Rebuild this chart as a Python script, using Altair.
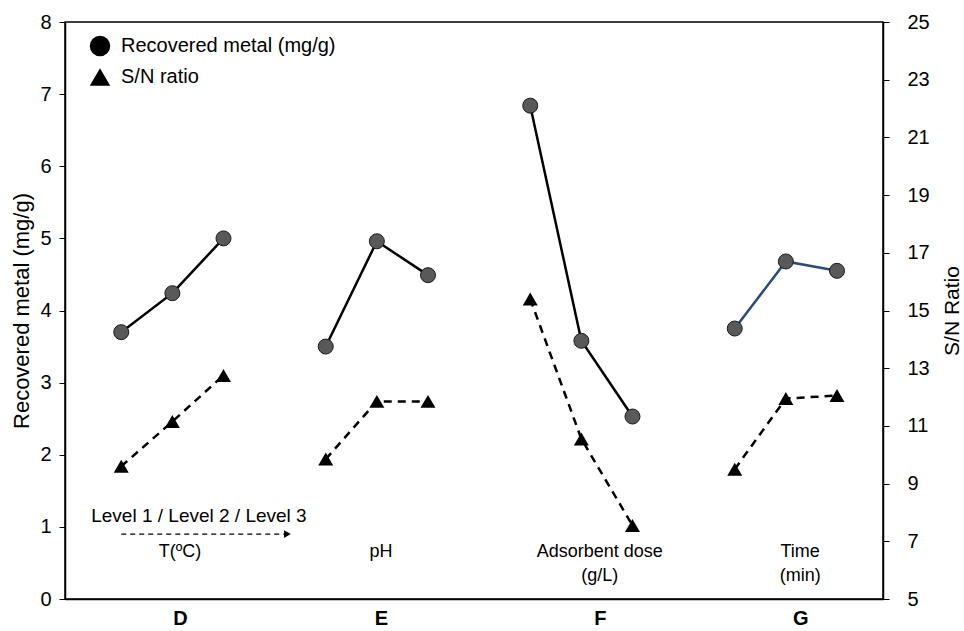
import altair as alt
import pandas as pd

# ---- data ----
factors = ["D", "E", "F", "G"]
factor_names = ["T(ºC)", "pH", "Adsorbent dose\n(g/L)", "Time\n(min)"]
levels = [1, 2, 3]
metal_D = [3.70, 4.24, 5.00]
metal_E = [3.50, 4.96, 4.49]
metal_F = [6.84, 3.58, 2.53]
metal_G = [3.75, 4.68, 4.55]
sn_D = [9.60, 11.15, 12.75]
sn_E = [9.85, 11.85, 11.85]
sn_F = [15.40, 10.55, 7.55]
sn_G = [9.50, 11.95, 12.05]
series_names = ["Recovered metal (mg/g)", "S/N ratio"]
metal_ticks = [0, 1, 2, 3, 4, 5, 6, 7, 8]
sn_ticks = [5, 7, 9, 11, 13, 15, 17, 19, 21, 23, 25]

metal = [metal_D, metal_E, metal_F, metal_G]
sn = [sn_D, sn_E, sn_F, sn_G]

rows = []
for gi, g in enumerate(factors):
    for li, lv in enumerate(levels):
        rows.append({"group": g, "level": lv, "x": 4 * gi + lv,
                     "metal": metal[gi][li], "sn": sn[gi][li]})
df = pd.DataFrame(rows)

# layout
FONT = "Liberation Sans"
BLUE = "#2C4A7E"
label_offset = [0.15, 0.08, 0.36, 0.28]
label_x = [round(4 * gi + 2 + label_offset[gi], 2) for gi in range(len(factors))]
label_map = "{" + ",".join(f"'{v}':'{g}'" for v, g in zip(label_x, factors)) + "}"

x_scale = alt.Scale(domain=[-0.1, 15.9])
x_enc = alt.X("x:Q", scale=x_scale,
              axis=alt.Axis(values=label_x,
                            labelExpr=label_map + "[datum.value]",
                            title=None, ticks=False, grid=False,
                            domainColor="black", domainWidth=1.5,
                            labelFontSize=20, labelFontWeight="bold",
                            labelColor="black", labelPadding=9, labelFont=FONT))

metal_y = alt.Y("metal:Q", scale=alt.Scale(domain=[0, 8]),
                axis=alt.Axis(orient="left", values=metal_ticks, title="Recovered metal (mg/g)",
                              grid=False, tickSize=6, tickColor="black", domainColor="black",
                              domainWidth=1.5, labelFontSize=20, labelColor="black",
                              labelPadding=8, titleFontSize=22, titleFontWeight="normal",
                              titleColor="black", titlePadding=6, labelFont=FONT,
                              titleFont=FONT))
sn_y = alt.Y("sn:Q", scale=alt.Scale(domain=[5, 25]),
             axis=alt.Axis(orient="right", values=sn_ticks, title="S/N Ratio",
                           grid=False, tickSize=6, tickColor="black", domainColor="black",
                           domainWidth=1.5, labelFontSize=20, labelColor="black",
                           labelPadding=18, titleFontSize=21, titleFontWeight="normal",
                           titleColor="black", titlePadding=33, titleAngle=270,
                           labelFont=FONT, titleFont=FONT))

shape_scale = alt.Scale(domain=series_names, range=["circle", "triangle-up"])
legend = alt.Legend(title=None, orient="none", legendX=24, legendY=13,
                    symbolSize=420, symbolOpacity=1, labelFontSize=20, labelLimit=0,
                    labelFont=FONT, labelColor="black", rowPadding=5, labelOffset=10,
                    padding=0)

base = alt.Chart(df)

# invisible layer that only carries the legend
legend_df = pd.DataFrame({"series": series_names, "x": [0, 0], "metal": [0, 0]})
legend_layer = alt.Chart(legend_df).mark_point(filled=True, color="black",
                                               opacity=0).encode(
    x=x_enc, y=metal_y,
    shape=alt.Shape("series:N", scale=shape_scale, legend=legend))

metal_line = base.mark_line(strokeWidth=2.5).encode(
    x=x_enc, y=metal_y, detail="group:N",
    stroke=alt.condition("datum.group == 'G'", alt.value(BLUE), alt.value("black")))
metal_pts = base.mark_point(shape="circle", filled=True, fill="#595959", stroke="#1a1a1a",
                            strokeWidth=1, size=225, opacity=1).encode(
    x=x_enc, y=metal_y)

# annotations (on the metal scale)
names_df = pd.DataFrame({"x": label_x, "metal": [0.78] * 4, "name": factor_names})
names_txt = alt.Chart(names_df).mark_text(fontSize=18, font=FONT, baseline="top",
                                          align="center", lineBreak="\n", lineHeight=24,
                                          color="black").encode(
    x=x_enc, y=metal_y, text="name:N")

lvl_df = pd.DataFrame({"x": [2.52], "metal": [1.15], "t": ["Level 1 / Level 2 / Level 3"]})
lvl_txt = alt.Chart(lvl_df).mark_text(fontSize=19, font=FONT, align="center",
                                      baseline="middle", color="black").encode(
    x=x_enc, y=metal_y, text="t:N")

arrow_df = pd.DataFrame({"x": [1.0], "x2": [4.25], "metal": [0.9]})
arrow_line = alt.Chart(arrow_df).mark_rule(strokeDash=[5, 4], strokeWidth=1.3,
                                           color="black").encode(
    x=x_enc, x2="x2:Q", y=metal_y)
arrow_head = alt.Chart(arrow_df).mark_point(shape="triangle-right", filled=True,
                                            color="black", size=60, opacity=1).encode(
    x=alt.X("x2:Q", scale=x_scale), y=metal_y)

metal_layer = alt.layer(legend_layer, metal_line, metal_pts, names_txt, lvl_txt,
                        arrow_line, arrow_head)

sn_line = base.mark_line(strokeWidth=2.5, strokeDash=[8, 6], color="black").encode(
    x=x_enc, y=sn_y, detail="group:N")
sn_pts = base.mark_point(shape="triangle-up", filled=True, color="black", size=225,
                         opacity=1).encode(x=x_enc, y=sn_y)

sn_layer = alt.layer(sn_line, sn_pts)

chart = alt.layer(metal_layer, sn_layer).resolve_scale(y="independent").properties(
    width=818, height=577,
    autosize=alt.AutoSizeParams(type="none"),
    padding={"left": 65, "top": 22, "right": 81, "bottom": 32},
    background="white",
).configure_view(stroke="black", strokeWidth=1.5)

chart.save("out.html", embed_options={"renderer": "svg", "actions": False})
